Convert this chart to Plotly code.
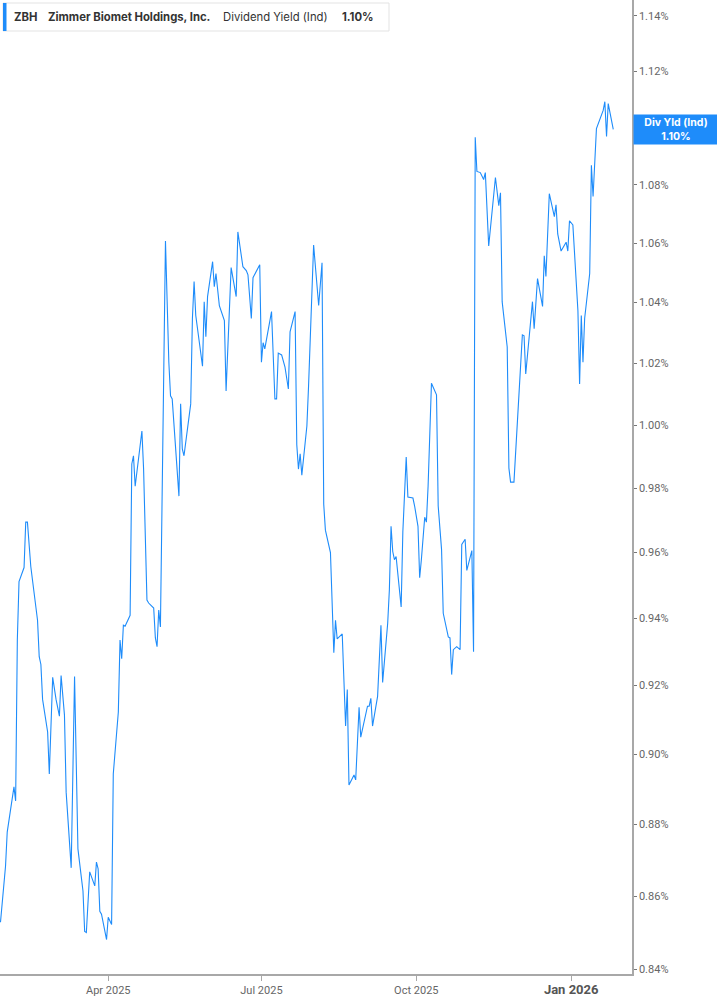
import math
import plotly.graph_objects as go

# Dividend yield (%)
dates = [
    "2025-01-27", "2025-01-29", "2025-01-30", "2025-01-31", "2025-02-04", "2025-02-05", "2025-02-06",
    "2025-02-07", "2025-02-10", "2025-02-11", "2025-02-12", "2025-02-14", "2025-02-16", "2025-02-18",
    "2025-02-19", "2025-02-20", "2025-02-21", "2025-02-24", "2025-02-25", "2025-02-27", "2025-03-01",
    "2025-03-03", "2025-03-04", "2025-03-06", "2025-03-07", "2025-03-10", "2025-03-12", "2025-03-13",
    "2025-03-14", "2025-03-17", "2025-03-18", "2025-03-19", "2025-03-21", "2025-03-24", "2025-03-25",
    "2025-03-26", "2025-03-27", "2025-03-28", "2025-03-31", "2025-04-01", "2025-04-03", "2025-04-04",
    "2025-04-07", "2025-04-08", "2025-04-09", "2025-04-10", "2025-04-11", "2025-04-14", "2025-04-15",
    "2025-04-16", "2025-04-17", "2025-04-21", "2025-04-22", "2025-04-24", "2025-04-25", "2025-04-28",
    "2025-04-29", "2025-04-30", "2025-05-01", "2025-05-02", "2025-05-05", "2025-05-07", "2025-05-08",
    "2025-05-09", "2025-05-12", "2025-05-13", "2025-05-14", "2025-05-15", "2025-05-16", "2025-05-20",
    "2025-05-21", "2025-05-22", "2025-05-23", "2025-05-27", "2025-05-28", "2025-05-29", "2025-05-30",
    "2025-06-02", "2025-06-03", "2025-06-04", "2025-06-06", "2025-06-09", "2025-06-10", "2025-06-13",
    "2025-06-16", "2025-06-17", "2025-06-20", "2025-06-22", "2025-06-23", "2025-06-25", "2025-06-26",
    "2025-06-30", "2025-07-01", "2025-07-02", "2025-07-03", "2025-07-07", "2025-07-09", "2025-07-10",
    "2025-07-11", "2025-07-13", "2025-07-15", "2025-07-17", "2025-07-18", "2025-07-21", "2025-07-22",
    "2025-07-23", "2025-07-24", "2025-07-25", "2025-07-28", "2025-07-29", "2025-08-01", "2025-08-04",
    "2025-08-06", "2025-08-07", "2025-08-08", "2025-08-11", "2025-08-13", "2025-08-14", "2025-08-15",
    "2025-08-18", "2025-08-20", "2025-08-21", "2025-08-22", "2025-08-25", "2025-08-26", "2025-08-28",
    "2025-08-29", "2025-09-02", "2025-09-03", "2025-09-04", "2025-09-05", "2025-09-08", "2025-09-10",
    "2025-09-11", "2025-09-14", "2025-09-15", "2025-09-16", "2025-09-17", "2025-09-18", "2025-09-19",
    "2025-09-22", "2025-09-23", "2025-09-25", "2025-09-26", "2025-09-29", "2025-09-30", "2025-10-02",
    "2025-10-03", "2025-10-04", "2025-10-06", "2025-10-07", "2025-10-08", "2025-10-10", "2025-10-13",
    "2025-10-14", "2025-10-16", "2025-10-17", "2025-10-20", "2025-10-21", "2025-10-22", "2025-10-23",
    "2025-10-25", "2025-10-27", "2025-10-28", "2025-10-30", "2025-10-31", "2025-11-03", "2025-11-04",
    "2025-11-05", "2025-11-06", "2025-11-08", "2025-11-10", "2025-11-11", "2025-11-13", "2025-11-17",
    "2025-11-19", "2025-11-20", "2025-11-21", "2025-11-24", "2025-11-25", "2025-11-26", "2025-11-28",
    "2025-12-03", "2025-12-04", "2025-12-05", "2025-12-08", "2025-12-09", "2025-12-10", "2025-12-12",
    "2025-12-15", "2025-12-16", "2025-12-17", "2025-12-19", "2025-12-22", "2025-12-23", "2025-12-24",
    "2025-12-26", "2025-12-29", "2025-12-30", "2025-12-31", "2026-01-02", "2026-01-05", "2026-01-06",
    "2026-01-07", "2026-01-08", "2026-01-09", "2026-01-12", "2026-01-13", "2026-01-14", "2026-01-16",
    "2026-01-20", "2026-01-21", "2026-01-22", "2026-01-23", "2026-01-26",
]

div_yield = [
    0.8528, 0.8647, 0.8683, 0.8778, 0.8906, 0.8866, 0.9335,
    0.9511, 0.9554, 0.9694, 0.9694, 0.9557, 0.9465, 0.9394,
    0.9285, 0.9262, 0.9159, 0.9064, 0.8943, 0.9224, 0.9159,
    0.9110, 0.9229, 0.9113, 0.8891, 0.8678, 0.9226, 0.8966,
    0.8731, 0.8614, 0.8503, 0.8500, 0.8667, 0.8628, 0.8694,
    0.8675, 0.8558, 0.8550, 0.8481, 0.8542, 0.8522, 0.8943,
    0.9122, 0.9335, 0.9279, 0.9379, 0.9376, 0.9409, 0.9876,
    0.9902, 0.9806, 0.9981, 0.9860, 0.9455, 0.9446, 0.9431,
    0.9341, 0.9315, 0.9425, 0.9374, 1.0607, 1.0203, 1.0094,
    1.0084, 0.9851, 0.9775, 1.0068, 0.9924, 0.9902, 1.0068,
    1.0347, 1.0470, 1.0357, 1.0190, 1.0403, 1.0287, 1.0420,
    1.0537, 1.0453, 1.0497, 1.0390, 1.0340, 1.0110, 1.0517,
    1.0420, 1.0638, 1.0520, 1.0507, 1.0493, 1.0347, 1.0483,
    1.0527, 1.0203, 1.0267, 1.0247, 1.0370, 1.0084, 1.0084,
    1.0233, 1.0227, 1.0187, 1.0116, 1.0303, 1.0370, 0.9937,
    0.9860, 0.9908, 0.9841, 0.9997, 1.0126, 1.0593, 1.0390,
    1.0533, 0.9750, 0.9669, 0.9600, 0.9297, 0.9394, 0.9338,
    0.9353, 0.9081, 0.9188, 0.8911, 0.8940, 0.8926, 0.9136,
    0.9049, 0.9139, 0.9139, 0.9162, 0.9081, 0.9168, 0.9379,
    0.9209, 0.9385, 0.9486, 0.9681, 0.9603, 0.9578, 0.9588,
    0.9434, 0.9663, 0.9898, 0.9772, 0.9769, 0.9744, 0.9681,
    0.9523, 0.9578, 0.9709, 0.9694, 0.9806, 1.0135, 1.0097,
    0.9744, 0.9609, 0.9415, 0.9344, 0.9341, 0.9232, 0.9306,
    0.9315, 0.9306, 0.9625, 0.9641, 0.9545, 0.9606, 0.9300,
    1.0965, 1.0846, 1.0842, 1.0818, 1.0842, 1.0590, 1.0825,
    1.0728, 1.0772, 1.0403, 1.0253, 0.9863, 0.9819, 0.9819,
    1.0293, 1.0290, 1.0165, 1.0347, 1.0403, 1.0313, 1.0480,
    1.0387, 1.0557, 1.0487, 1.0769, 1.0690, 1.0731, 1.0631,
    1.0573, 1.0603, 1.0573, 1.0676, 1.0662, 1.0373, 1.0132,
    1.0357, 1.0203, 1.0347, 1.0497, 1.0867, 1.0759, 1.0996,
    1.1060, 1.1091, 1.0968, 1.1084, 1.0993,
]

ytick_vals = [0.84, 0.86, 0.88, 0.90, 0.92, 0.94, 0.96, 0.98, 1.00, 1.02, 1.04, 1.06, 1.08, 1.10, 1.12, 1.14]
# the 1.10% label sits under the last-value tag, so it is left blank
ytick_text = ["" if v == 1.10 else "%.2f%%" % v for v in ytick_vals]
xtick_vals = ["2025-04-01", "2025-07-01", "2025-10-01", "2026-01-01"]
xtick_text = ["Apr 2025", "Jul 2025", "Oct 2025",
              "<b><span style='font-size:13px;color:#555'>Jan 2026</span></b>"]

ticker = "ZBH"
company = "Zimmer Biomet Holdings, Inc."
metric = "Dividend Yield (Ind)"
short_metric = "Div Yld (Ind)"
last_val = div_yield[-1]

blue = "#1e8cfa"
W, H = 717, 1005
ML, MR, MT, MB = 0, 85, 0, 31
PW, PH = W - ML - MR, H - MT - MB

def px_x(p):
    return p / PW

def px_y(p):
    return 1 - p / PH

fig = go.Figure()
fig.add_trace(go.Scatter(x=dates, y=div_yield, mode="lines",
                         line=dict(color=blue, width=1.1), hoverinfo="x+y"))

shapes = [
    # header box + blue bar
    dict(type="rect", xref="paper", yref="paper", x0=px_x(3), x1=px_x(389), y0=px_y(31), y1=px_y(3),
         line=dict(color="#e3e3e3", width=1), fillcolor="white", layer="above"),
    dict(type="rect", xref="paper", yref="paper", x0=px_x(3), x1=px_x(6.5), y0=px_y(31), y1=px_y(3),
         line=dict(width=0), fillcolor=blue, layer="above"),
]

head_font = dict(family="Inter, Roboto, sans-serif", size=11.3, color="#333333")
annotations = [
    dict(xref="paper", yref="paper", x=px_x(12), y=px_y(17), xanchor="left", yanchor="middle",
         text="<b>%s</b>" % ticker, showarrow=False, font=head_font),
    dict(xref="paper", yref="paper", x=px_x(46), y=px_y(17), xanchor="left", yanchor="middle",
         text="<b>%s</b>" % company, showarrow=False, font=head_font),
    dict(xref="paper", yref="paper", x=px_x(221), y=px_y(17), xanchor="left", yanchor="middle",
         text=metric, showarrow=False, font=head_font),
    dict(xref="paper", yref="paper", x=px_x(340), y=px_y(17), xanchor="left", yanchor="middle",
         text="<b>%.2f%%</b>" % last_val, showarrow=False, font=head_font),
    # last value tag on the axis
    dict(xref="paper", yref="y", x=1, y=math.log10(last_val), xanchor="left", yanchor="middle",
         xshift=1, text="<b>%s</b><br><b>%.2f%%</b>" % (short_metric, last_val), showarrow=False,
         bgcolor=blue, width=82, height=27, borderpad=1, align="center",
         font=dict(family="Inter, Roboto, sans-serif", size=10.5, color="white")),
]

fig.update_layout(
    width=W, height=H,
    margin=dict(l=ML, r=MR, t=MT, b=MB),
    plot_bgcolor="white", paper_bgcolor="white",
    showlegend=False,
    shapes=shapes,
    annotations=annotations,
    xaxis=dict(
        type="date",
        range=["2025-01-26 17:00", "2026-02-06 03:00"],
        tickvals=xtick_vals, ticktext=xtick_text,
        showgrid=False, zeroline=False,
        showline=True, linecolor="#a8a8a8", linewidth=1.5,
        ticks="outside", ticklen=5, tickcolor="#a8a8a8",
        tickfont=dict(family="Roboto, sans-serif", size=11, color="#666666"),
    ),
    yaxis=dict(
        type="log", side="right",
        range=[math.log10(0.8388), math.log10(1.1458)],
        tickvals=ytick_vals, ticktext=ytick_text,
        showgrid=False, zeroline=False,
        showline=True, linecolor="#a8a8a8", linewidth=1.5,
        ticks="outside", ticklen=3, tickcolor="#777777",
        tickfont=dict(family="Roboto, sans-serif", size=11, color="#666666"),
    ),
)

# page body margin would push the chart 8px off the window corner
fig.write_html("out.html", config={"displayModeBar": False},
               post_script="document.body.style.margin = '0';")
